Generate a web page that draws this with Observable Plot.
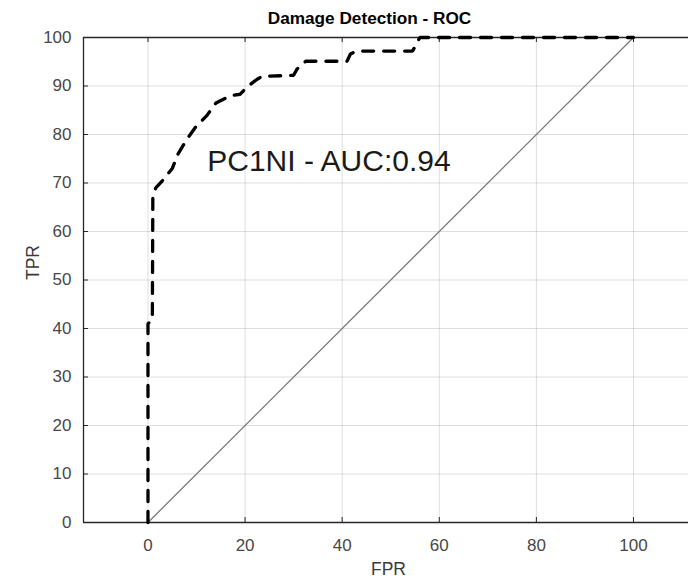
<!DOCTYPE html>
<html><head><meta charset="utf-8">
<script src="https://cdn.jsdelivr.net/npm/d3@7"></script>
<script src="https://cdn.jsdelivr.net/npm/@observablehq/plot@0.6"></script>
<style>body{margin:0;background:#fff;} #chart svg{display:block;}</style>
</head><body><div id="chart"></div>
<script>
// ROC curve (dashed)
const fpr = [0, 0, 0.9, 1, 1.6, 3, 5, 6.2, 8, 9.8, 12.2, 14, 17, 19, 20.4, 22.5, 23.5, 30, 30.7, 32.5, 41, 41.7, 43, 54.5, 55.2, 56, 100];
const tpr = [0, 41, 41.8, 67, 69, 70.5, 73, 76, 79, 81.5, 84, 86.5, 88, 88.3, 89.8, 91.4, 92, 92.2, 93.5, 95.1, 95.1, 96.6, 97.2, 97.2, 98.5, 100, 100];
// chance diagonal
const diagX = [0, 100];
const diagY = [0, 100];
// ticks
const xTicks = [0, 20, 40, 60, 80, 100];
const yTicks = [0, 10, 20, 30, 40, 50, 60, 70, 80, 90, 100];
// texts
const titleText = "Damage Detection - ROC";
const xLabel = "FPR";
const yLabel = "TPR";
const annotation = "PC1NI - AUC:0.94";
const annotX = 12.2, annotY = 74.5;
// axis limits
const xMin = -13.28, xMax = 111.33, yMin = 0, yMax = 100;

const curve = fpr.map((x, i) => ({x, y: tpr[i]}));
const diag = diagX.map((x, i) => ({x, y: diagY[i]}));

const W = 688, H = 581, mL = 83, mR = 0, mT = 37, mB = 59;
const pxPerY = (H - mT - mB) / (yMax - yMin);
const pxPerX = (W - mL - mR) / (xMax - xMin);
const tickPx = 5;
const axisColor = "#262626";
const font = "'Liberation Sans', Arial, Helvetica, sans-serif";

const chart = Plot.plot({
  width: W, height: H,
  marginLeft: mL, marginRight: mR, marginTop: mT, marginBottom: mB,
  style: {fontFamily: font, background: "#fff", overflow: "visible"},
  x: {domain: [xMin, xMax]},
  y: {domain: [yMin, yMax]},
  marks: [
    Plot.gridX(xTicks, {stroke: "#000", strokeOpacity: 0.13, strokeWidth: 1}),
    Plot.gridY(yTicks, {stroke: "#000", strokeOpacity: 0.13, strokeWidth: 1}),
    Plot.axisX(xTicks, {tickSize: 0, tickPadding: 16, fontSize: 17, color: "#484848", label: null, tickFormat: d => String(d)}),
    Plot.axisY(yTicks, {tickSize: 0, tickPadding: 12, fontSize: 17, color: "#484848", label: null, tickFormat: d => String(d)}),
    // inward tick marks
    Plot.ruleX(xTicks, {x: d => d, y1: yMin, y2: yMin + tickPx / pxPerY, stroke: axisColor}),
    Plot.ruleX(xTicks, {x: d => d, y1: yMax, y2: yMax - tickPx / pxPerY, stroke: axisColor}),
    Plot.ruleY(yTicks, {y: d => d, x1: xMin, x2: xMin + tickPx / pxPerX, stroke: axisColor}),
    // box lines
    Plot.ruleY([yMin, yMax], {stroke: axisColor, strokeWidth: 1.3}),
    Plot.ruleX([xMin], {stroke: axisColor, strokeWidth: 1.3}),
    // diagonal
    Plot.line(diag, {x: "x", y: "y", stroke: "#7a7a7a", strokeWidth: 1.3}),
    // ROC curve
    Plot.line(curve, {x: "x", y: "y", stroke: "#000", strokeWidth: 3.3, strokeDasharray: "11,10", strokeLinejoin: "miter"}),
    // annotation
    Plot.text([annotation], {x: () => annotX, y: () => annotY, text: d => d, textAnchor: "start", fontSize: 30, fill: "#1a1a1a"}),
    // labels and title
    Plot.text([xLabel], {frameAnchor: "bottom", text: d => d, dx: 2.5, dy: 52, fontSize: 17.5, fill: "#3a3a3a"}),
    Plot.text([yLabel], {frameAnchor: "left", text: d => d, dx: -50, rotate: -90, fontSize: 17.5, fill: "#3a3a3a"}),
    Plot.text([titleText], {frameAnchor: "top", text: d => d, dx: -16.5, dy: -26, fontSize: 17.2, fontWeight: "bold", fill: "#000"})
  ]
});
document.getElementById("chart").appendChild(chart);
</script>
</body></html>
